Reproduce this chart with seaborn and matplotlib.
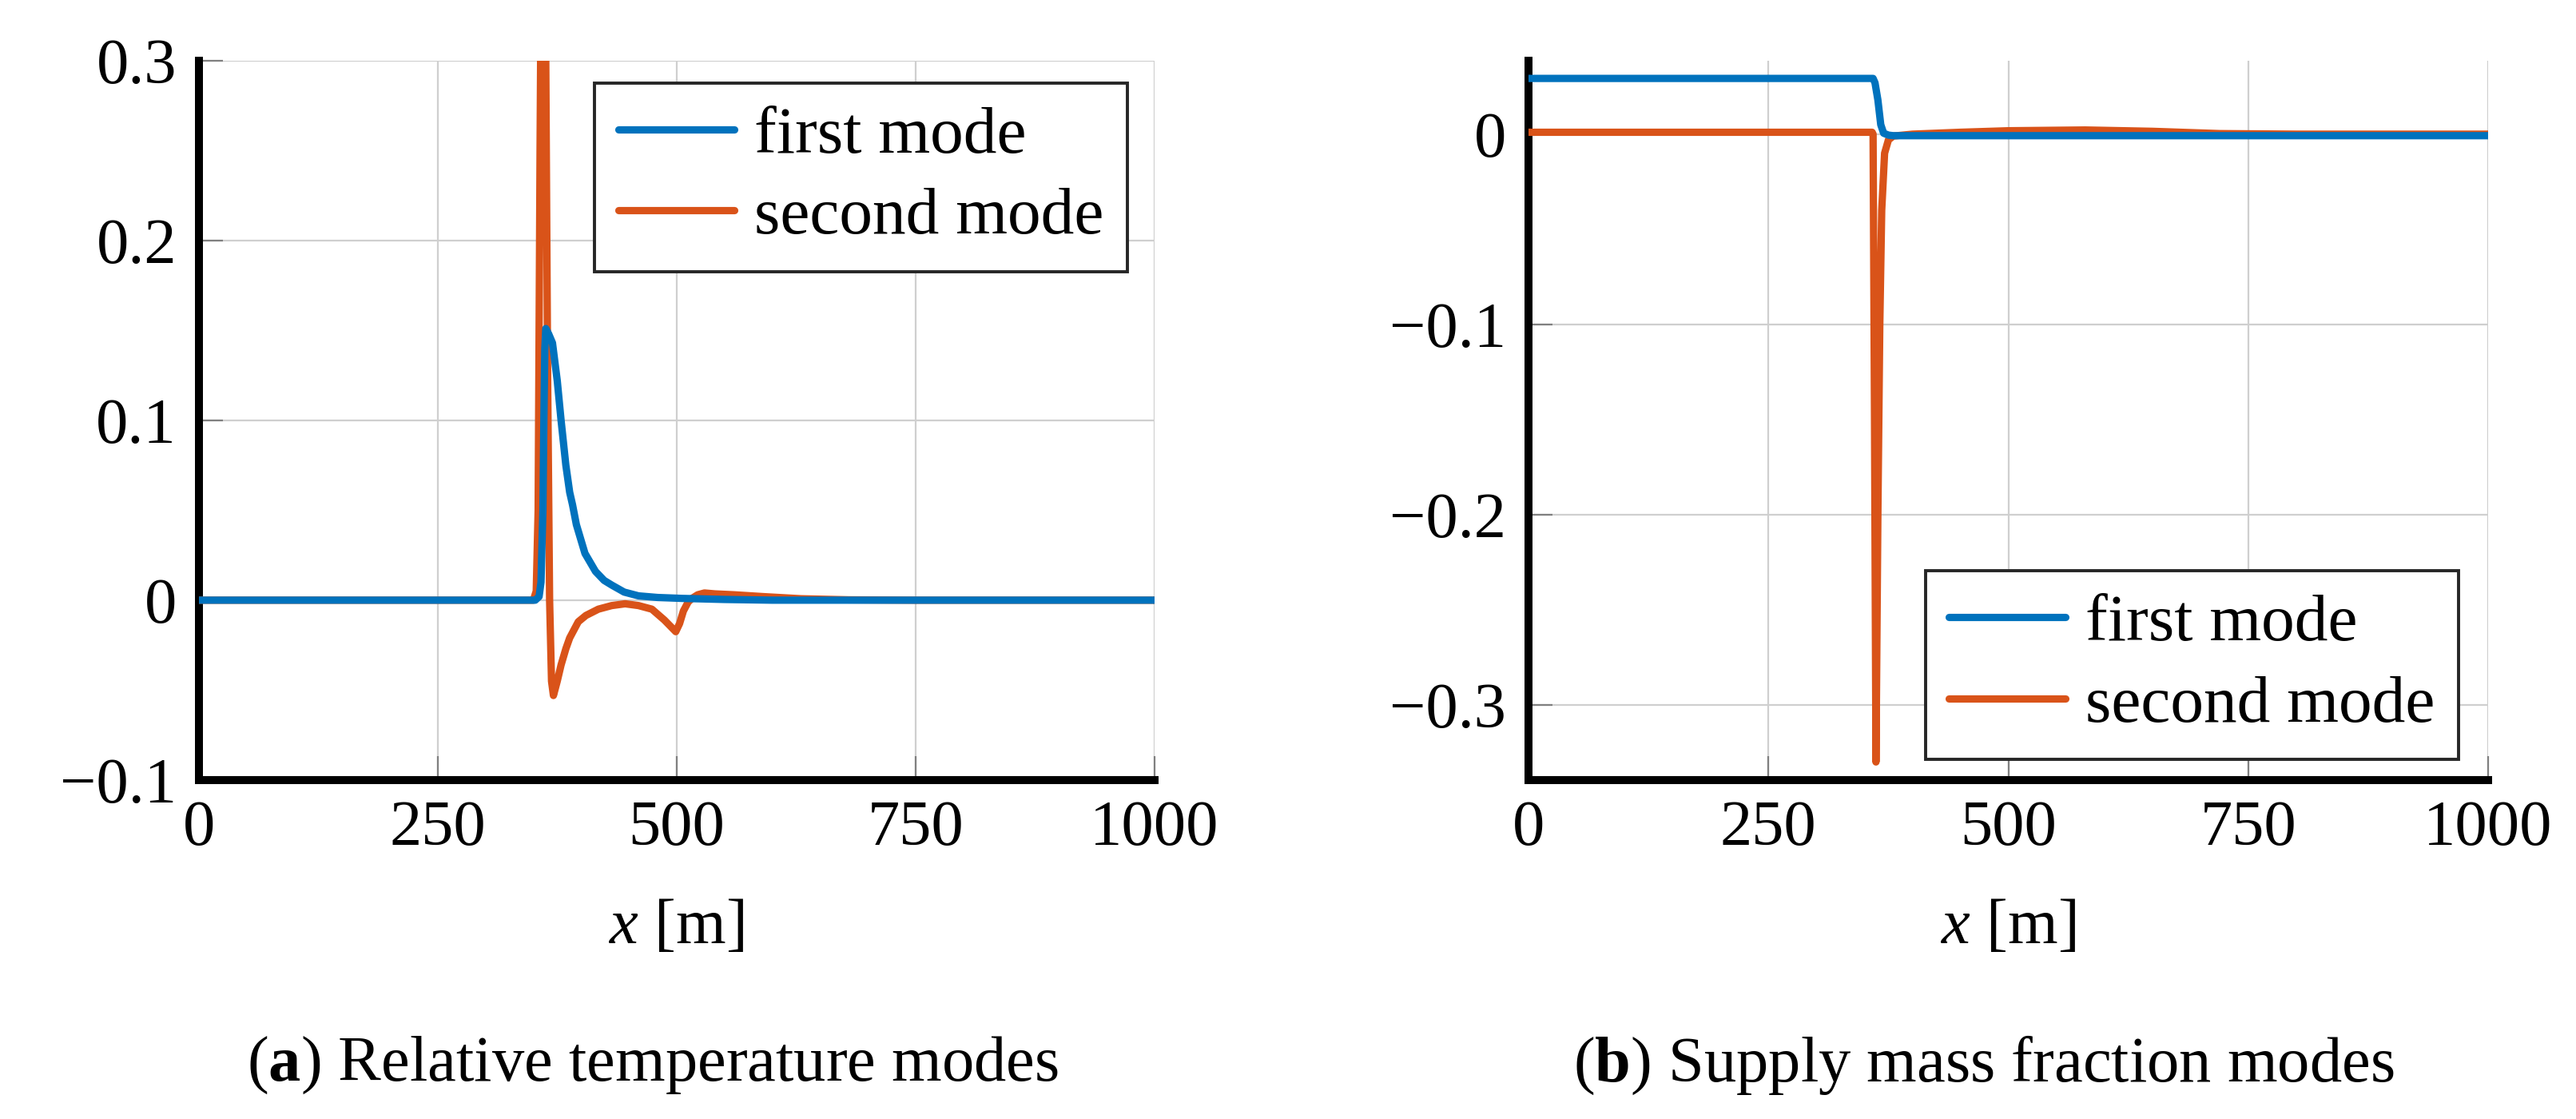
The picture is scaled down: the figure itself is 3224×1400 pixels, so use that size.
import numpy as np
import pandas as pd
import matplotlib
matplotlib.use('Agg')
import matplotlib.pyplot as plt
import seaborn as sns
from matplotlib.ticker import FuncFormatter

# --- data (x in metres) ---
# (a) relative temperature modes
temp_first_x = [0, 352, 356, 358, 360, 361, 362, 363, 366, 370, 375, 379, 384, 388, 391, 395,
                404, 415, 424, 432, 445, 460, 480, 505, 550, 600, 1000]
temp_first_y = [0, 0, 0.002, 0.01, 0.05, 0.1, 0.14, 0.151, 0.148, 0.143, 0.122, 0.1, 0.075,
                0.06, 0.053, 0.042, 0.026, 0.016, 0.011, 0.0084, 0.0045, 0.0024, 0.0015, 0.001,
                0.0004, 0, 0]

temp_second_x = [0, 350, 353, 355, 357, 359, 361, 363, 365, 367, 369, 371, 375, 379, 384, 388,
                 397, 405, 418, 432, 446, 460, 474, 487, 499, 503, 507, 512, 516, 522, 529, 540,
                 560, 590, 630, 680, 750, 1000]
temp_second_y = [0, 0, 0.005, 0.05, 0.25, 0.42, 0.45, 0.3, 0.12, 0.0, -0.045, -0.053, -0.045,
                 -0.036, -0.027, -0.021, -0.012, -0.0085, -0.005, -0.003, -0.002, -0.003,
                 -0.005, -0.011, -0.0175, -0.013, -0.006, -0.001, 0.001, 0.003, 0.004, 0.0035,
                 0.003, 0.002, 0.0008, 0.0002, 0, 0]

# (b) supply mass fraction modes
mass_first_x = [0, 359, 361, 364, 367, 370, 375, 380, 1000]
mass_first_y = [0.0293, 0.0293, 0.027, 0.018, 0.005, 0.0005, -0.0005, -0.0008, -0.0008]

mass_second_x = [0, 358, 359, 360.5, 362, 364, 366, 368, 371, 375, 380, 400, 450, 500, 580, 650,
                 720, 800, 1000]
mass_second_y = [0.001, 0.001, 0.0, -0.15, -0.33, -0.2, -0.1, -0.04, -0.01, -0.003, -0.001, 0,
                 0.001, 0.0018, 0.0022, 0.0015, 0.0003, 0, 0]

x_ticks = [0, 250, 500, 750, 1000]
temp_yticks = [-0.1, 0, 0.1, 0.2, 0.3]
mass_yticks = [-0.3, -0.2, -0.1, 0]
labels = ['first mode', 'second mode']
captions = [r'($\mathbf{a}$) Relative temperature modes', r'($\mathbf{b}$) Supply mass fraction modes']

blue = '#0072BD'
orange = '#D95319'

sns.set_theme(style='whitegrid')
plt.rcParams['font.family'] = ['Liberation Serif', 'DejaVu Serif']
plt.rcParams['mathtext.fontset'] = 'custom'
plt.rcParams['mathtext.rm'] = 'Liberation Serif'
plt.rcParams['mathtext.it'] = 'Liberation Serif:italic'
plt.rcParams['mathtext.bf'] = 'Liberation Serif:bold'
plt.rcParams['axes.unicode_minus'] = True
plt.rcParams['text.color'] = 'black'
plt.rcParams['axes.labelcolor'] = 'black'

fig = plt.figure(figsize=(16.12, 7.0), dpi=200)
ax1 = fig.add_axes([0.0772, 0.3029, 0.371, 0.643])
ax2 = fig.add_axes([0.5934, 0.3029, 0.3725, 0.643])


def fmt(v, pos):
    s = '{:g}'.format(round(v, 3))
    if s == '-0':
        s = '0'
    return s.replace('-', '\u2212')


def style_axes(ax, yticks, ylim):
    ax.set_facecolor('white')
    ax.set_xlim(0, 1000)
    ax.set_ylim(*ylim)
    ax.set_xticks(x_ticks)
    ax.set_yticks(yticks)
    ax.xaxis.set_major_formatter(FuncFormatter(fmt))
    ax.yaxis.set_major_formatter(FuncFormatter(fmt))
    ax.grid(True, color='#cfcfcf', linewidth=0.8)
    for side in ['top', 'right']:
        ax.spines[side].set_visible(False)
    for side in ['left', 'bottom']:
        ax.spines[side].set_visible(True)
        ax.spines[side].set_color('black')
        ax.spines[side].set_linewidth(3.6)
    ax.tick_params(axis='both', direction='in', length=10.8, width=0.8, color='#808080',
                   labelsize=29, labelcolor='black', left=True, bottom=True)
    ax.tick_params(axis='y', pad=10)
    ax.tick_params(axis='x', pad=9)
    ax.set_xlabel(r'$x$ [m]', fontsize=29, labelpad=18, color='black')
    ax.set_ylabel('')


def draw(ax, fx, fy, sx, sy):
    d1 = pd.DataFrame({'x': fx, 'y': fy})
    d2 = pd.DataFrame({'x': sx, 'y': sy})
    sns.lineplot(data=d1, x='x', y='y', ax=ax, color=blue, linewidth=3.3, label=labels[0], zorder=4)
    sns.lineplot(data=d2, x='x', y='y', ax=ax, color=orange, linewidth=3.3, label=labels[1], zorder=3)


draw(ax1, temp_first_x, temp_first_y, temp_second_x, temp_second_y)
draw(ax2, mass_first_x, mass_first_y, mass_second_x, mass_second_y)

style_axes(ax1, temp_yticks, (-0.1, 0.3))
style_axes(ax2, mass_yticks, (-0.3395, 0.0387))

leg_kw = dict(fontsize=30, frameon=True, fancybox=False, framealpha=1, edgecolor='#262626',
              borderaxespad=0, handlelength=1.75, handletextpad=0.3, borderpad=0.35,
              labelspacing=0.3)
l1 = ax1.legend(loc='upper right', bbox_to_anchor=(0.9716, 0.969), **leg_kw)
l2 = ax2.legend(loc='lower right', bbox_to_anchor=(0.969, 0.029), **leg_kw)
for leg in (l1, l2):
    leg.get_frame().set_linewidth(1.4)
    for h in leg.get_lines():
        h.set_linewidth(3.3)

fig.text(0.2534, 0.048, captions[0], fontsize=29, ha='center', va='center', color='black')
fig.text(0.770, 0.048, captions[1], fontsize=29, ha='center', va='center', color='black')

fig.savefig('out.png', dpi=200, facecolor='white')
